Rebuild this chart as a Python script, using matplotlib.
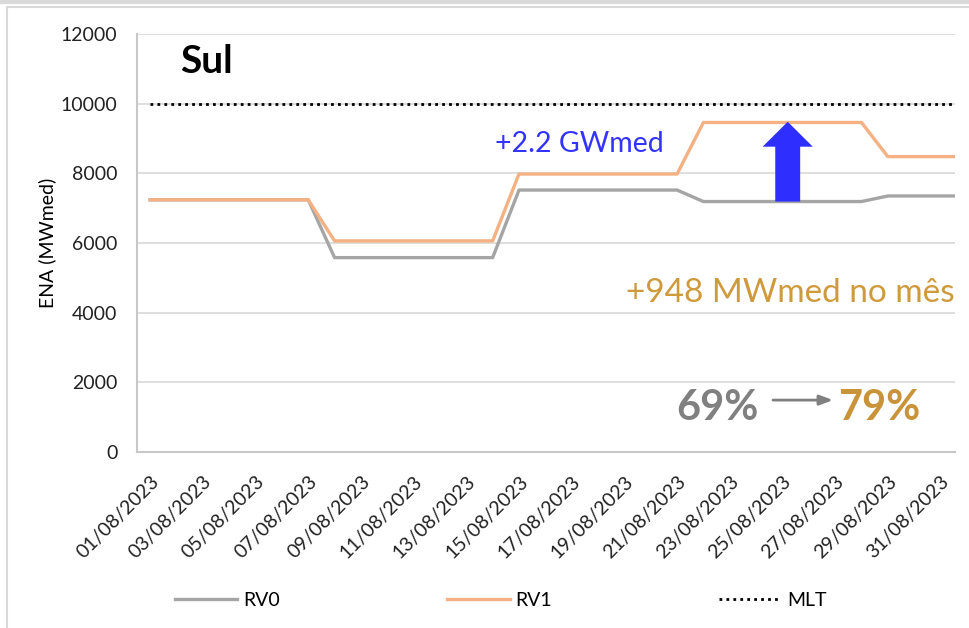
import numpy as np
import matplotlib
matplotlib.use('Agg')
from matplotlib import pyplot as plt
from matplotlib.patches import Rectangle
from matplotlib.lines import Line2D

plt.rcParams['font.family'] = ['Lato', 'DejaVu Sans']

# daily dates of August 2023 (+ first day of September, cut off at the right edge)
dates = [f'{d:02d}/08/2023' for d in range(1, 32)] + ['01/09/2023']

rv0 = [7240] * 7 + [5580] * 7 + [7520] * 7 + [7190] * 7 + [7350] * 4
rv1 = [7240] * 7 + [6060] * 7 + [7980] * 7 + [9460] * 7 + [8480] * 4
mlt = [10000] * 32

arrow_x = 24.2
arrow_from = 7190
arrow_to = 9480

fig = plt.figure(figsize=(9.69, 6.28), dpi=100)
ax = fig.add_axes([137 / 969, 1 - 452 / 628, (955 - 137) / 969, 418 / 628])

x = np.arange(len(dates))
ax.plot(x, rv0, color='#A5A5A5', lw=2.4, label='RV0')
ax.plot(x, rv1, color='#F4B183', lw=2.4, label='RV1')
ax.plot(x, mlt, color='black', lw=2, ls=(0, (1, 1.5)), label='MLT')

ax.set_xlim(-0.5, 30.55)
ax.set_ylim(0, 12000)
ax.set_yticks(range(0, 12001, 2000))
ax.set_xticks(x[:31:2])
ax.set_xticklabels(dates[:31:2], rotation=45, ha='right', rotation_mode='anchor')
ax.tick_params(axis='both', length=0, labelsize=14, colors='#222222')
ax.tick_params(axis='x', pad=15)
ax.tick_params(axis='y', pad=14)
ax.grid(axis='y', color='#D9D9D9', lw=1.2)
ax.set_axisbelow(True)
for s in ['top', 'right']:
  ax.spines[s].set_visible(False)
for s in ['left', 'bottom']:
  ax.spines[s].set_color('#C8C8C8')
  ax.spines[s].set_linewidth(1.5)
ax.set_ylabel('ENA (MWmed)', fontsize=14)
ax.yaxis.set_label_coords((56 - 137) / 818, 0.5)

ax.text(1.14, 10880, 'Sul', fontsize=28, fontweight='bold', va='baseline')

# annotations
ax.annotate('', xy=(arrow_x, arrow_to), xytext=(arrow_x, arrow_from),
            arrowprops=dict(arrowstyle='simple,head_width=1.57,head_length=0.78,tail_width=0.78',
                            fc='#2E2EFF', ec='none', shrinkA=0, shrinkB=0, mutation_scale=23))
ax.text(16.28, 8620, '+2.2 GWmed', fontsize=20.5, color='#3333FF', va='baseline', ha='center')
ax.text(30.55, 4307, '+948 MWmed no mês', fontsize=24, color='#CF9A3C', va='baseline', ha='right')
ax.text(23.08, 919, '69%', fontsize=30, fontweight='bold', color='#808080', va='baseline', ha='right')
ax.text(26.12, 919, '79%', fontsize=30, fontweight='bold', color='#C9933A', va='baseline', ha='left')
ax.annotate('', xy=(25.92, 1490), xytext=(23.64, 1490),
            arrowprops=dict(arrowstyle='-|>,head_width=0.3,head_length=0.8', color='#808080',
                            lw=2, shrinkA=0, shrinkB=0))

fig.legend(loc='center', bbox_to_anchor=(501 / 969, 1 - 600 / 628), ncol=3, frameon=False,
           fontsize=14, handlelength=3.2, columnspacing=8.6, handletextpad=0.3)

# chart frame
fig.add_artist(Rectangle((7 / 969, -0.01), 1.0, 1 - 7 / 628 + 0.01, transform=fig.transFigure,
                         fill=False, ec='#D9D9D9', lw=1.5))
fig.add_artist(Line2D([0, 1], [1 - 1.5 / 628] * 2, transform=fig.transFigure, color='#D9D9D9', lw=3))

fig.savefig('out.png', dpi=100)
